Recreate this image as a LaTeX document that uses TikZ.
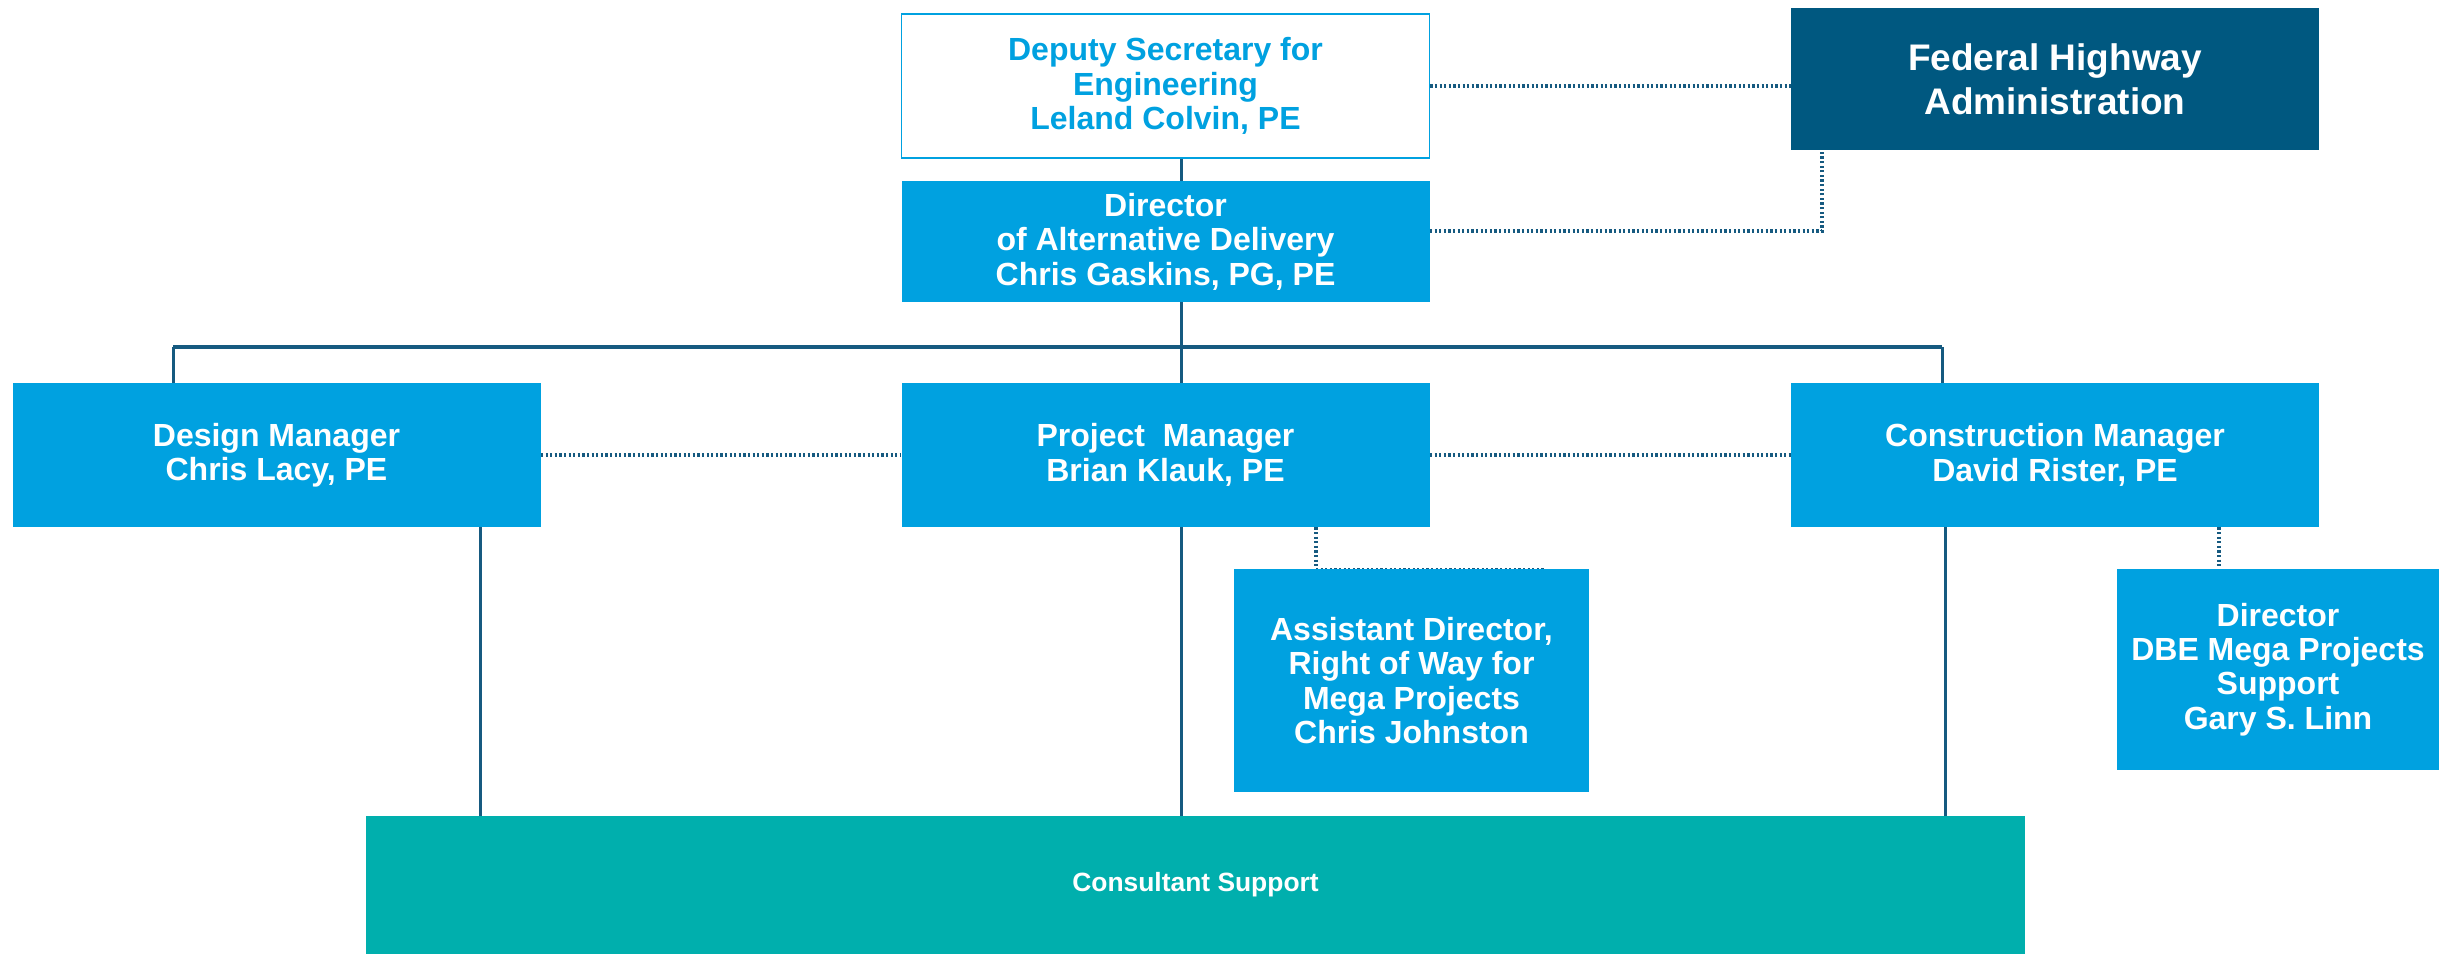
\documentclass[tikz,border=0pt]{standalone}
\usepackage{fontspec}
\setmainfont{Liberation Sans}
\usetikzlibrary{positioning}

\definecolor{vdotblue}{RGB}{0,161,224}
\definecolor{fhwablue}{RGB}{0,88,128}
\definecolor{linkblue}{RGB}{22,90,128}
\definecolor{consteal}{RGB}{0,175,173}

\tikzset{
  box/.style={fill=vdotblue, text=white, align=center, inner sep=0pt,
    font=\bfseries\fontsize{16}{17.2}\selectfont,
    minimum width=264pt, minimum height=72pt},
  solidline/.style={draw=linkblue, line width=1.5pt},
  busline/.style={draw=linkblue, line width=2pt},
  dotline/.style={draw=linkblue, line width=2pt, dash pattern=on 1.1pt off 1.2pt}
}

\begin{document}
\begin{tikzpicture}[x=0.5pt, y=-0.5pt]
      % The page: one unit is one pixel of the reference
      \useasboundingbox (0,0) rectangle (2450,954);

      % Top level
      \node[box, fill=white, draw=vdotblue, line width=0.8pt, text=vdotblue] (deputy) at (1165.5,86)
        {Deputy Secretary for\\Engineering\\Leland Colvin, PE};
      \node[box, fill=fhwablue, font=\bfseries\fontsize{18.5}{21.9}\selectfont,
        minimum height=71pt] (fhwa) at (2055,79) {Federal Highway\\Administration};
      \node[box, minimum height=60.5pt] (director) at (1165.5,241.5)
        {Director\\of Alternative Delivery\\Chris Gaskins, PG, PE};

      % Managers
      \node[box] (design) at (276.5,455) {Design Manager\\Chris Lacy, PE};
      \node[box] (project) at (1165.5,455) {Project\ \ Manager\\Brian Klauk, PE};
      \node[box] (construction) at (2055,455) {Construction Manager\\David Rister, PE};

      % Support boxes
      \node[box, minimum width=177.5pt, minimum height=111.5pt] (rowdir) at (1411.5,680.5)
        {Assistant Director,\\Right of Way for\\Mega Projects\\Chris Johnston};
      \node[box, minimum width=161pt, minimum height=100.5pt] (dbe) at (2278,669.5)
        {Director\\DBE Mega Projects\\Support\\Gary S. Linn};
      \node[box, fill=consteal, font=\bfseries\fontsize{13.2}{16}\selectfont,
        minimum width=829.5pt, minimum height=69pt] (consultant) at (1195.5,885) {Consultant Support};

      % Tap points for the lines
      \coordinate (spine) at (1181,347);
      \coordinate (busL) at (173,347);
      \coordinate (busR) at (1942,347);
      \coordinate (dropD) at (480,0);
      \coordinate (dropC) at (1945,0);
      \coordinate (fhwaTap) at (1822,231);
      \coordinate (rowTap) at (1316,0);
      \coordinate (rowEnd) at (1544,0);
      \coordinate (dbeTap) at (2219,0);

      % Solid reporting lines
      \draw[solidline] (deputy.south -| spine) -- (director.north -| spine);
      \draw[solidline] (director.south -| spine) -- (project.north -| spine);
      \draw[busline] (busL) -- (busR);
      \draw[solidline] (busL) -- (busL |- design.north);
      \draw[solidline] (busR) -- (busR |- construction.north);
      \draw[solidline] (design.south -| dropD) -- (consultant.north -| dropD);
      \draw[solidline] (project.south -| spine) -- (consultant.north -| spine);
      \draw[solidline] (construction.south -| dropC) -- (consultant.north -| dropC);

      % Dotted lines
      \draw[dotline] (deputy.east) -- (deputy.east -| fhwa.west);
      \draw[dotline] (director.east |- fhwaTap) -- (fhwaTap) -- (fhwaTap |- fhwa.south);
      \draw[dotline] (design) -- (project);
      \draw[dotline] (project) -- (construction);
      \draw[dotline] (project.south -| rowTap) -- (rowdir.north -| rowTap);
      \draw[dotline, line width=0.8pt] (rowdir.north -| rowTap) -- (rowdir.north -| rowEnd);
      \draw[dotline] (construction.south -| dbeTap) -- (dbe.north -| dbeTap);
\end{tikzpicture}
\end{document}
